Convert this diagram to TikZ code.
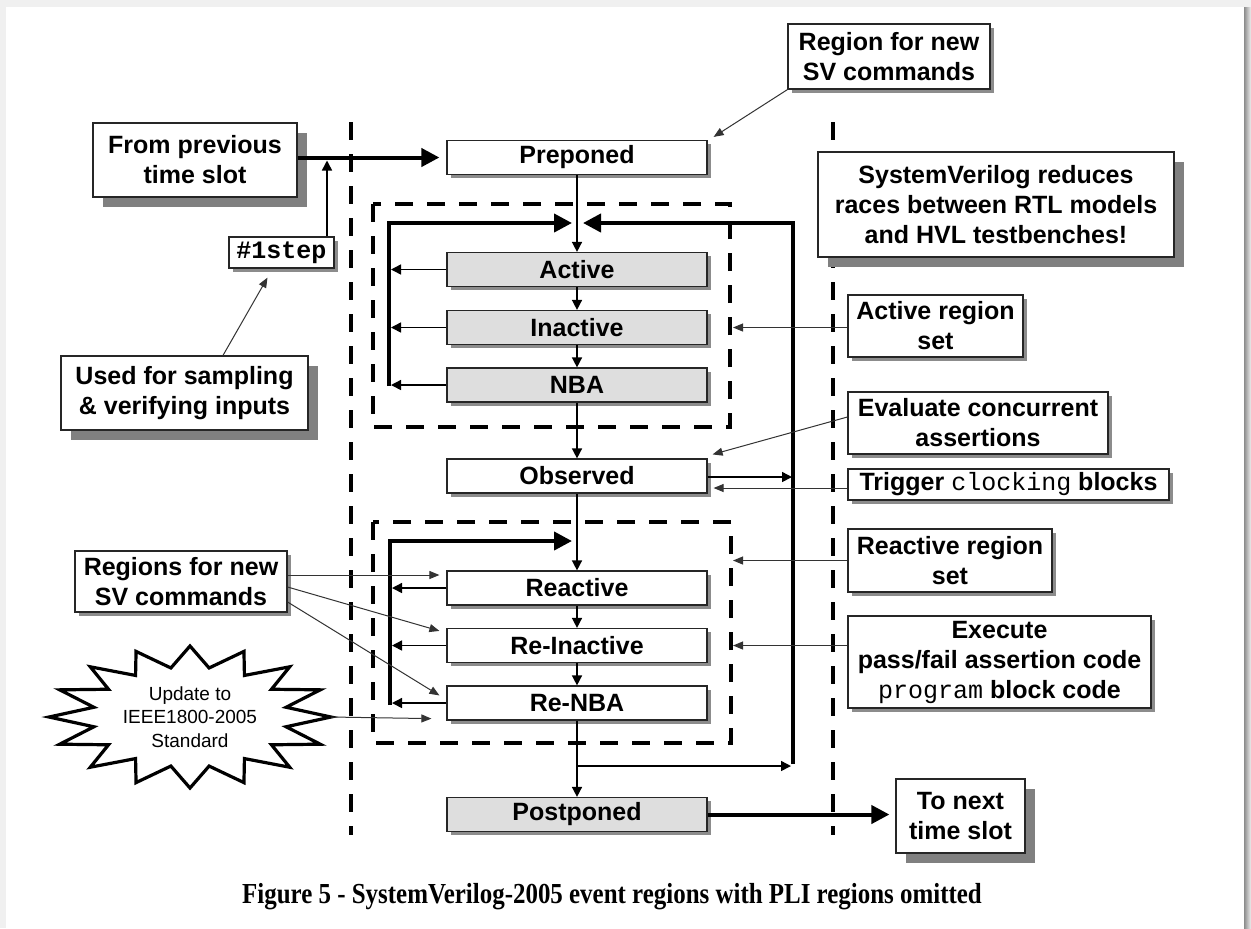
\documentclass[tikz,border=0pt]{standalone}
\usepackage{fontspec}
\setmainfont{Liberation Sans}
\setmonofont{Liberation Mono}
\newfontfamily\capfont[FakeStretch=0.86]{Liberation Serif}
\usetikzlibrary{arrows.meta,shadows,calc}
\begin{document}
\begin{tikzpicture}[x=0.5pt,y=-0.5pt,
  boxfont/.style={font=\fontsize{12.5}{15}\selectfont\bfseries},
  base/.style={draw=black!85, line width=0.6pt, fill=white, align=center, inner sep=0pt, boxfont},
  smallshadow/.style={general shadow={fill=black!45, shadow xshift=1.75pt, shadow yshift=-1.75pt}},
  bigshadow/.style={general shadow={fill=black!50, shadow xshift=5pt, shadow yshift=-5pt}},
  flowbox/.style={base, smallshadow, minimum width=130pt, minimum height=17pt},
  grayflow/.style={flowbox, fill=black!13},
  note/.style={base, smallshadow},
  bignote/.style={base, bigshadow},
  flow/.style={line width=0.75pt, -{Triangle[length=5pt,width=5pt]}},
  leader/.style={line width=0.5pt, draw=black!80, -{Triangle[length=5pt,width=4pt]}},
  heavy/.style={line width=2pt, -{Triangle[length=9pt,width=9pt]}},
  bigdash/.style={line width=2pt, dash pattern=on 9pt off 7pt},
  burst/.style={line width=1.6pt, line join=miter, fill=white},
  burstfont/.style={font=\fontsize{9.5}{11.75}\selectfont, align=center, inner sep=0pt}
]
\useasboundingbox (0,0) rectangle (1251,928);
% page background
\fill[black!6] (0,0) rectangle (1251,928);
\fill[white] (6,7) rectangle (1244,928);
\shade[left color=black!45, right color=black!6] (1244,7) rectangle (1251,928);

% dashed region lines and boxes
\draw[bigdash] (351,122) -- (351,835);
\draw[bigdash] (833,122) -- (833,835);
\draw[bigdash] (373,204) rectangle (730,427);
\draw[bigdash] (373,522) rectangle (731,743);

% starburst
\begin{scope}[shift={(190,717)}]
\draw[burst] (0:70.5pt and 35.5pt)
  \foreach \k in {0,...,15} { -- ({\k*22.5+11.25}:49pt and 25pt) -- ({(\k+1)*22.5}:70.5pt and 35.5pt) } -- cycle;
\end{scope}
\node[burstfont] (upd) at (190,717) {Update to\\IEEE1800-2005\\Standard};
\coordinate (updtip) at (331,717);

% nodes
\node[note, minimum width=101pt, minimum height=32.5pt] (regnew) at (889,56.5) {Region for new\\SV commands};
\node[bignote, minimum width=102pt, minimum height=37pt] (fromprev) at (195,160) {From previous\\time slot};
\node[flowbox] (preponed) at (577,157.5) {Preponed};
\node[bignote, minimum width=178pt, minimum height=52.5pt] (svbox) at (996,204.5) {SystemVerilog reduces\\races between RTL models\\and HVL testbenches!};
\node[note, minimum width=52.5pt, minimum height=15.5pt] (onestep) at (281.5,252.5) {\ttfamily\bfseries \#1step};
\node[grayflow] (active) at (577,269.5) {Active};
\node[grayflow] (inactive) at (577,327.5) {Inactive};
\node[grayflow] (nba) at (577,385) {NBA};
\node[note, minimum width=87.5pt, minimum height=31pt] (actset) at (935.5,326) {Active region\\set};
\node[bignote, minimum width=123.5pt, minimum height=37pt] (sampling) at (184.5,393) {Used for sampling\\\& verifying inputs};
\node[note, minimum width=130pt, minimum height=31pt] (evalbox) at (978,423) {Evaluate concurrent\\assertions};
\node[flowbox] (observed) at (577,476) {Observed};
\node[note, minimum width=160.5pt, minimum height=15.5pt] (trigger) at (1008.5,484.5) {Trigger {\mdseries\ttfamily clocking} blocks};
\node[note, minimum width=102pt, minimum height=31.5pt] (reactset) at (950,560.5) {Reactive region\\set};
\node[note, minimum width=106pt, minimum height=30.5pt] (regions) at (181,581.5) {Regions for new\\SV commands};
\node[flowbox] (reactive) at (577,588) {Reactive};
\node[flowbox] (reinactive) at (577,645.5) {Re-Inactive};
\node[flowbox] (renba) at (577,703) {Re-NBA};
\node[note, minimum width=151.5pt, minimum height=46pt] (execbox) at (999.5,662) {Execute\\pass/fail assertion code\\{\mdseries\ttfamily program} block code};
\node[grayflow] (postponed) at (577,814.5) {Postponed};
\node[bignote, minimum width=64.5pt, minimum height=37pt] (tonext) at (960.5,816) {To next\\time slot};
\node[font=\capfont\bfseries\fontsize{14.5}{17}\selectfont, inner sep=0pt] (cap) at (612,897) {Figure 5 - SystemVerilog-2005 event regions with PLI regions omitted};

% coordinates of loop lines
\coordinate (j1) at (327,157.5);
\coordinate (lu1) at (389,386);
\coordinate (lu2) at (389,223);
\coordinate (rtop) at (793,223);
\coordinate (rbot) at (793,766);
\coordinate (ll1) at (390,705);
\coordinate (ll2) at (390,541);
\coordinate (dR) at (733,0);

% connectors: time slots
\draw[heavy] (fromprev.east |- preponed.west) -- ($(preponed.west)+(-7,0)$);
\draw[flow] (onestep.north -| j1) -- ($(j1)+(0,3)$);
\draw[leader] (sampling.north -| 223,0) -- ($(onestep.south)+(-14,9)$);
\draw[leader] (regnew.south west) -- ($(preponed.north east)+(6,-3)$);
\draw[heavy] (postponed.east) -- ($(tonext.west |- postponed.east)+(-6,0)$);

% main flow
\draw[flow] (preponed.south) -- (active.north);
\draw[flow] (active.south) -- (inactive.north);
\draw[flow] (inactive.south) -- (nba.north);
\draw[flow] (nba.south) -- (observed.north);
\draw[flow] (observed.south) -- (reactive.north);
\draw[flow] (reactive.south) -- (reinactive.north);
\draw[flow] (reinactive.south) -- (renba.north);
\draw[flow] (renba.south) -- (postponed.north);

% loops
\draw[heavy] (lu1) -- (lu2) -- ($(active.north |- lu2)+(-5,0)$);
\draw[flow] (active.west) -- ($(lu1 |- active.west)+(2,0)$);
\draw[flow] (inactive.west) -- ($(lu1 |- inactive.west)+(2,0)$);
\draw[flow] (nba.west) -- ($(lu1 |- nba.west)+(2,0)$);
\draw[heavy] ($(rbot)+(0,-2)$) -- (rtop) -- ($(active.north |- rtop)+(6,0)$);
\draw[flow] (renba.south |- rbot) -- ($(rbot)+(-2,0)$);
\draw[heavy] (ll1) -- (ll2) -- ($(reactive.north |- ll2)+(-5,0)$);
\draw[flow] (reactive.west) -- ($(ll1 |- reactive.west)+(2,0)$);
\draw[flow] (reinactive.west) -- ($(ll1 |- reinactive.west)+(2,0)$);
\draw[flow] (renba.west) -- ($(ll1 |- renba.west)+(2,0)$);

% right-hand annotations
\draw[leader] (actset.west |- inactive) -- (dR |- inactive);
\draw[leader] (evalbox.west |- 0,417) -- ($(observed.north east)+(5,-4)$);
\draw[flow] (observed.east |- 0,477) -- ($(rtop |- 0,477)+(-1,0)$);
\draw[leader] (trigger.west |- 0,488) -- ($(observed.east |- 0,488)+(6,0)$);
\draw[leader] (reactset.west) -- (dR |- reactset.west);
\draw[leader] (execbox.west |- reinactive) -- (dR |- reinactive);

% left-hand annotations
\draw[leader] (regions.east |- 0,575) -- ($(reactive.west |- 0,575)+(-7,0)$);
\draw[leader] (regions.east |- 0,587) -- ($(reinactive.north west)+(-7,3)$);
\draw[leader] (regions.east |- 0,602) -- ($(renba.north west)+(-7,10)$);
\draw[leader] (updtip) -- ($(renba.south west)+(-15,-2)$);
\end{tikzpicture}
\end{document}
